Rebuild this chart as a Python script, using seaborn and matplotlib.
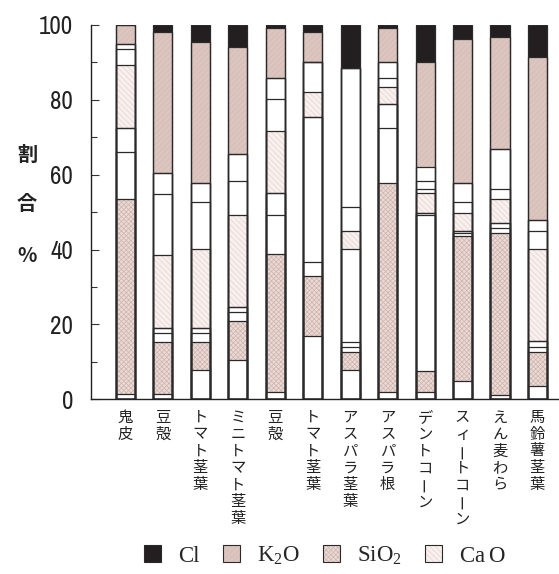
import numpy as np
import matplotlib
matplotlib.use("Agg")
import matplotlib.pyplot as plt
import seaborn as sns
from matplotlib.patches import Patch
from matplotlib.legend_handler import HandlerTuple

# Ash composition of crop residues (%), stacked from the bottom up
categories = ["鬼皮", "豆殻", "トマト茎葉", "ミニトマト茎葉", "豆殻", "トマト茎葉",
              "アスパラ茎葉", "アスパラ根", "デントコーン", "スィートコーン", "えん麦わら", "馬鈴薯茎葉"]

rest_base = [1.4, 1.4, 7.8, 10.5, 2.0, 16.9, 7.8, 2.0, 2.0, 4.9, 1.1, 3.6]
sio2 = [52.0, 14.0, 7.6, 10.5, 36.7, 16.1, 4.8, 55.7, 5.6, 38.7, 43.2, 9.0]
rest_1 = [12.6, 2.2, 2.2, 2.2, 10.5, 3.6, 1.5, 14.7, 41.6, 0.7, 1.4, 1.5]
rest_2 = [6.4, 1.5, 1.5, 1.5, 5.8, 38.7, 1.3, 6.4, 0.7, 0.7, 1.5, 1.5]
rest_3 = [0.0, 0.0, 0.0, 0.0, 0.0, 0.0, 24.7, 0.0, 0.0, 0.0, 0.0, 0.0]
cao = [16.9, 19.5, 21.0, 24.5, 16.7, 6.9, 4.9, 4.7, 5.1, 4.9, 6.3, 24.5]
rest_4 = [4.2, 16.2, 12.5, 9.1, 8.4, 7.8, 6.5, 2.3, 1.3, 2.9, 2.8, 4.9]
rest_5 = [1.4, 5.7, 5.1, 7.2, 5.7, 0.0, 36.9, 4.2, 2.1, 4.9, 10.6, 2.9]
rest_6 = [0.0, 0.0, 0.0, 0.0, 0.0, 0.0, 0.0, 0.0, 3.7, 0.0, 0.0, 0.0]
k2o = [5.1, 37.7, 37.8, 28.7, 13.3, 8.2, 0.0, 9.1, 27.9, 38.5, 30.0, 43.5]
cl = [0.0, 1.8, 4.5, 5.8, 0.9, 1.8, 11.6, 0.9, 10.0, 3.8, 3.1, 8.6]

legend_labels = ["Cl", r"K$_\mathregular{2}$O", r"SiO$_\mathregular{2}$", r"Ca$\,$O"]
y_ticks = [0, 20, 40, 60, 80, 100]

styles = {
    "plain": dict(face="white", hatch=None, hcolor="white"),
    "sio2": dict(face="#eadad6", hatch="xxxxxxx", hcolor="#cfb3ad"),
    "cao": dict(face="#f8f0ee", hatch="\\\\\\\\\\\\", hcolor="#e6d2ce"),
    "k2o": dict(face="#dcc5bf", hatch="//////", hcolor="#d5bcb6"),
    "cl": dict(face="#231f20", hatch=None, hcolor="#231f20"),
}

layers = [
    (rest_base, "plain"), (sio2, "sio2"), (rest_1, "plain"), (rest_2, "plain"),
    (rest_3, "plain"), (cao, "cao"), (rest_4, "plain"), (rest_5, "plain"),
    (rest_6, "plain"), (k2o, "k2o"), (cl, "cl"),
]

sns.set_theme(style="white")
plt.rcParams["hatch.linewidth"] = 0.5
plt.rcParams["font.family"] = ["Noto Sans CJK JP", "DejaVu Sans"]

fig = plt.figure(figsize=(5.59, 5.74), dpi=100)
ax = fig.add_axes([91 / 559, 1 - 399.3 / 574, 467 / 559, 374.3 / 574])

pos = np.arange(len(categories))
cum = np.cumsum(np.array([vals for vals, _ in layers]), axis=0)
bar_w = 0.51

# filled segments: tallest cumulative layer first, lower layers painted over it
for i in reversed(range(len(layers))):
    st = styles[layers[i][1]]
    sns.barplot(x=pos, y=cum[i], color=st["face"], saturation=1, width=bar_w,
                errorbar=None, ax=ax)
    for p in ax.containers[-1]:
        p.set_facecolor(st["face"])
        p.set_edgecolor(st["hcolor"])
        p.set_linewidth(0)
        if st["hatch"]:
            p.set_hatch(st["hatch"])

# segment outlines
for i in range(len(layers)):
    sns.barplot(x=pos, y=cum[i], color="#2a2a2a", saturation=1, width=bar_w,
                errorbar=None, fill=False, ax=ax)
    for p in ax.containers[-1]:
        p.set_facecolor("none")
        p.set_edgecolor("#2a2a2a")
        p.set_linewidth(0.9)

ax.set_xlim(-0.92, 11.55)
ax.set_ylim(0, 100)
ax.set_xlabel("")
ax.set_ylabel("")
ax.set_xticks(pos)
ax.set_xticklabels([])
ax.tick_params(axis="x", length=0)
ax.set_yticks(y_ticks)
ax.set_yticks([10, 30, 50, 70, 90], minor=True)

# narrow digits for the value axis
ax.set_yticklabels([str(t) for t in y_ticks], fontsize=18, color="#222222",
                   family=["Archivo Narrow", "DejaVu Sans"])
ax.tick_params(axis="y", which="major", direction="in", length=6, width=0.8,
               color="#333333", pad=13, left=True)
ax.tick_params(axis="y", which="minor", direction="in", length=4, width=0.8,
               color="#333333", left=True)
for side in ["top", "right"]:
    ax.spines[side].set_visible(False)
for side in ["left", "bottom"]:
    ax.spines[side].set_color("#222222")
    ax.spines[side].set_linewidth(1.0)

# vertical category labels, one character per line
for i, name in enumerate(categories):
    for j, ch in enumerate(name):
        ax.annotate(ch, xy=(i, 0), xycoords=("data", "axes fraction"),
                    xytext=(0, -12.8 - 12.2 * j), textcoords="offset points",
                    ha="center", va="center", fontsize=11, color="#222222",
                    rotation=90 if ch == "ー" else 0)

# vertical axis title
for ch, yc in zip(["割", "合", "%"], [154, 204, 255]):
    fig.text(27 / 559, 1 - yc / 574, ch, ha="center", va="center",
             fontsize=14.5, fontweight="bold", color="#222222")

# legend
handles = []
for key in ["cl", "k2o", "sio2", "cao"]:
    st = styles[key]
    fill_p = Patch(facecolor=st["face"], edgecolor=st["hcolor"], linewidth=0,
                   hatch=st["hatch"])
    edge_p = Patch(facecolor="none", edgecolor="#2a2a2a", linewidth=0.8)
    handles.append((fill_p, edge_p))

fig.legend(handles, legend_labels, handler_map={tuple: HandlerTuple(ndivide=1)},
           loc="center", bbox_to_anchor=(325 / 559, 1 - 556 / 574), ncol=4,
           frameon=False, handlelength=0.75, handleheight=0.75, handletextpad=0.75,
           columnspacing=1.0,
           prop={"family": ["Liberation Serif", "DejaVu Serif"], "size": 16.5})

fig.savefig("out.png", dpi=100)
